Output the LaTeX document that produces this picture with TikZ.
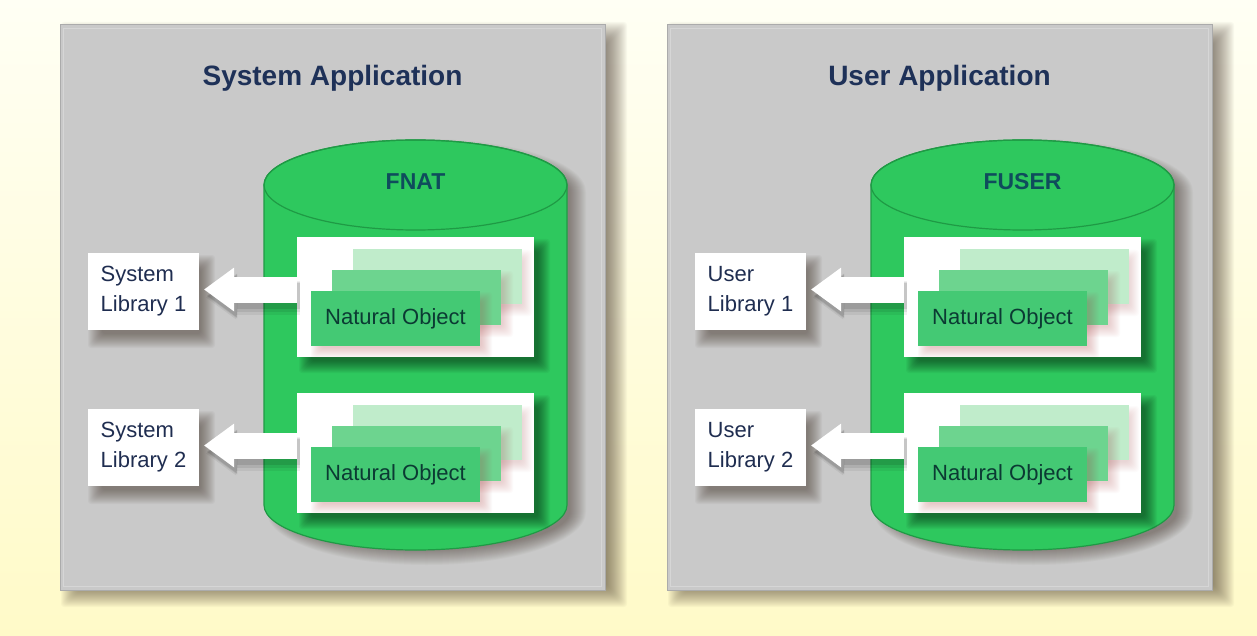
\documentclass[tikz,border=0pt]{standalone}
\usepackage{fontspec}
\setmainfont{Liberation Sans}
\usetikzlibrary{arrows.meta,calc}
\definecolor{bgtop}{HTML}{FFFFF4}
\definecolor{bgbot}{HTML}{FFFAC8}
\definecolor{panelfill}{HTML}{C9C9C9}
\definecolor{panelline}{HTML}{ABABAB}
\definecolor{panelinner}{HTML}{D6D6D6}
\definecolor{navy}{HTML}{1E3158}
\definecolor{libtext}{HTML}{1F2D50}
\definecolor{cylgreen}{HTML}{2EC85E}
\definecolor{cylline}{HTML}{1F9A45}
\definecolor{dbtext}{HTML}{0F4C5C}
\definecolor{objfront}{HTML}{44C974}
\definecolor{objmid}{HTML}{6DD48F}
\definecolor{objback}{HTML}{C0ECCB}
\definecolor{objtext}{HTML}{0B3A33}
\definecolor{pinkshadow}{HTML}{B04848}
\definecolor{brownshadow}{HTML}{3A2A20}

% soft rectangular shadow: #1 colour, #2 opacity per layer, #3..#6 box, #7 blur half-width
\newcommand\rectshadow[7]{%
  \foreach \e in {-#7,...,#7}{\fill[#1, opacity=#2, rounded corners=3pt] ({#3-\e},{#4-\e}) rectangle ({#5+\e},{#6+\e});}%
}

\tikzset{
  panel/.style={draw=panelline, fill=panelfill, line width=1pt, minimum width=545pt, minimum height=565pt, inner sep=0pt},
  apptitle/.style={font=\fontsize{28}{34}\selectfont\bfseries, text=navy, inner sep=0pt},
  dblabel/.style={font=\fontsize{23}{28}\selectfont\bfseries, text=dbtext, inner sep=0pt},
  libbox/.style={fill=white, minimum width=111pt, minimum height=77pt, align=left, font=\fontsize{22}{30}\selectfont, text=libtext, inner sep=0pt},
  wbox/.style={fill=white, minimum width=237pt, minimum height=120pt, inner sep=0pt},
  objrect/.style={minimum width=169pt, minimum height=55pt, inner sep=0pt},
  blockarrow/.style={line width=26pt, -{Triangle[length=30pt,width=44pt,line width=0pt]}},
}

% #1 y offset of row, #2 node prefix, #3 row number, #4 library word
\newcommand\objrow[4]{%
  \begin{scope}[shift={(0,#1)}]
    \rectshadow{black}{0.04}{305}{245}{544}{367}{6}
    \node[wbox] (#2wb#3) at (415.5,297) {};
    \rectshadow{pinkshadow}{0.02}{358}{255}{527}{311}{5}
    \node[objrect, fill=objback] (#2ob#3) at (437,276.5) {};
    \rectshadow{pinkshadow}{0.022}{337}{276}{508}{332}{5}
    \node[objrect, fill=objmid] (#2om#3) at (416.5,297.5) {};
    \rectshadow{pinkshadow}{0.028}{316}{297}{487}{353}{5}
    \node[objrect, fill=objfront, text=objtext, font=\fontsize{22}{26}\selectfont] (#2of#3) at (395.5,318.5) {Natural Object};
    \rectshadow{brownshadow}{0.04}{95}{262}{208}{341}{7}
    \node[libbox] (#2lib#3) at (143.5,291.5) {#4\\Library #3};
  \end{scope}
  \coordinate (#2tip#3) at ([xshift=5pt,yshift=2pt]#2lib#3.east);
  \draw[blockarrow, black, opacity=0.06, line width=34pt] ([xshift=3pt,yshift=-8pt]#2wb#3.west |- #2tip#3) -- ([xshift=2pt,yshift=-8pt]#2tip#3);
  \draw[blockarrow, black, opacity=0.08, line width=30pt] ([xshift=3pt,yshift=-7pt]#2wb#3.west |- #2tip#3) -- ([xshift=3pt,yshift=-7pt]#2tip#3);
  \draw[blockarrow, black, opacity=0.1] ([xshift=3pt,yshift=-6pt]#2wb#3.west |- #2tip#3) -- ([xshift=3pt,yshift=-6pt]#2tip#3);
  \draw[blockarrow, white] (#2wb#3.west |- #2tip#3) -- (#2tip#3);
}

% #1 x shift, #2 prefix, #3 title, #4 database, #5 library word
\newcommand\apppanel[5]{%
  \begin{scope}[shift={(#1,0)}]
    \rectshadow{brownshadow}{0.032}{71}{32}{617}{597}{10}
    \node[panel] (#2panel) at (332.5,307.5) {};
    \draw[panelinner, line width=1.5pt] ($(#2panel.north west)+(4,4)$) rectangle ($(#2panel.south east)+(-4,-4)$);
    \node[apptitle] (#2title) at (332.5,78) {#3};
    \foreach \e in {-8,...,8}{\fill[brownshadow, opacity=0.033] ({275-\e},192) -- ({275-\e},512) arc[start angle=180,end angle=0,x radius={151.5+\e},y radius={45+\e}] -- ({578+\e},192) arc[start angle=0,end angle=-180,x radius={151.5+\e},y radius={45+\e}] -- cycle;}
    \filldraw[fill=cylgreen, draw=cylline, line width=1.2pt] (264,185) -- (264,505) arc[start angle=180,end angle=0,x radius=151.5,y radius=45] -- (567,185) arc[start angle=0,end angle=-180,x radius=151.5,y radius=45] -- cycle;
    \draw[cylline, line width=1.2pt] (415.5,185) ellipse[x radius=151.5, y radius=45];
    \node[dblabel] (#2db) at (415.5,182) {#4};
    \objrow{0}{#2}{1}{#5}
    \objrow{156}{#2}{2}{#5}
  \end{scope}
}

\begin{document}
\begin{tikzpicture}[x=1pt,y=-1pt]
\useasboundingbox (0,0) rectangle (1257,636);
\shade[top color=bgtop, bottom color=bgbot] (0,0) rectangle (1257,636);
\apppanel{0}{S}{System Application}{FNAT}{System}
\apppanel{607}{U}{User Application}{FUSER}{User}
\end{tikzpicture}
\end{document}
